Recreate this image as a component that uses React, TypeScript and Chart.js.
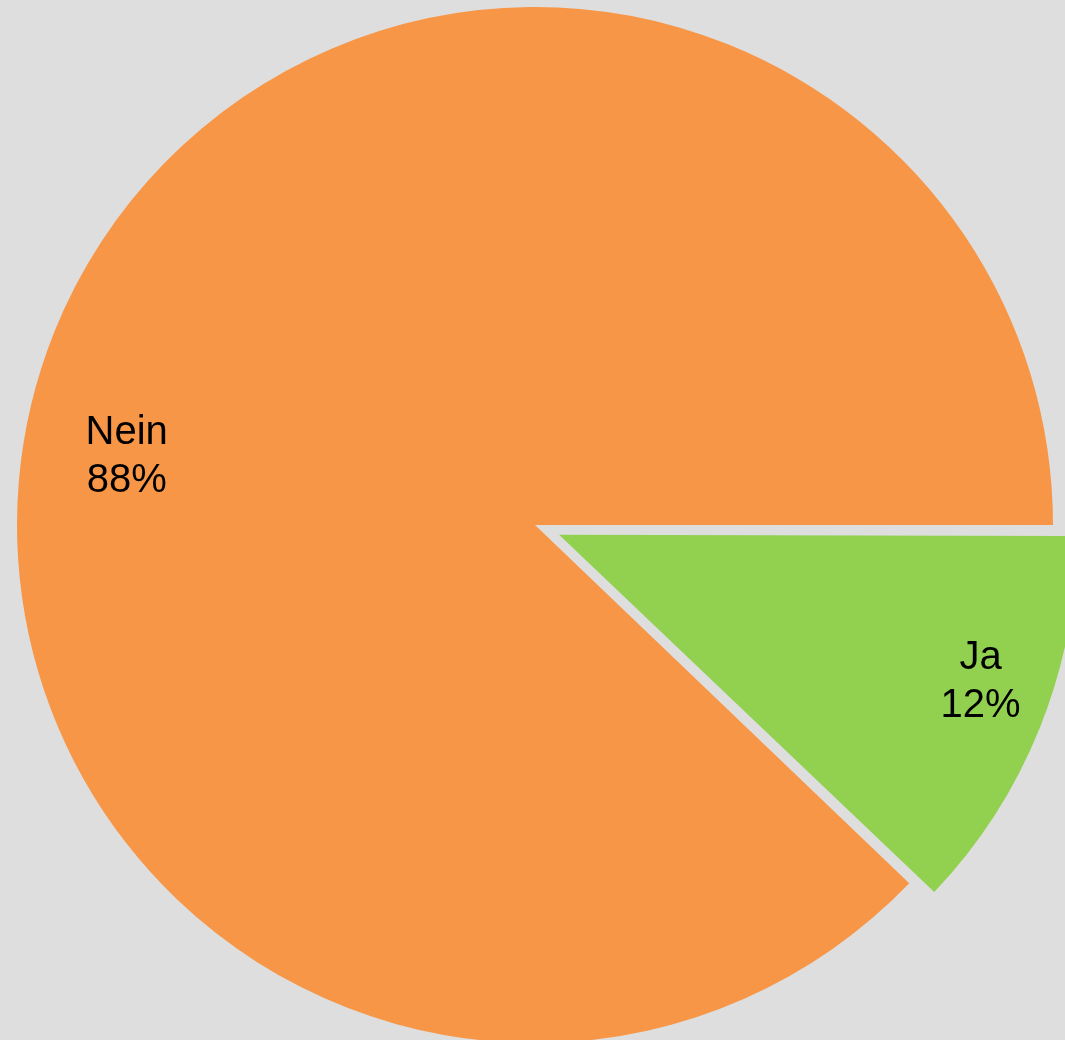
import React, { useEffect, useRef } from "react";
import { Chart, registerables } from "chart.js";

Chart.register(...registerables);

const categories = ["Ja", "Nein"];
const values = [12.15, 87.85];
const percentLabels = ["12%", "88%"];
const sliceColors = ["#92D050", "#F79646"];
// explode distance in pixels (Chart.js translates arcs by offset/4)
const sliceExplodePx = [26, 0];
// label placement within each slice: fraction of slice angle, fraction of radius
const labelAngleFrac = [0.432, 0.462];
const labelRadiusFrac = [0.86, 0.8];

function radiusFix(arc: any) {
  const circ = arc.endAngle - arc.startAngle;
  return 1 - Math.sin(Math.min(Math.PI, circ || 0));
}

const sliceLabelPlugin = {
  id: "sliceLabels",
  afterDatasetUpdate(chart: any, args: any) {
    const meta = chart.getDatasetMeta(args.index);
    meta.data.forEach((arc: any, i: number) => {
      const off = sliceExplodePx[i] || 0;
      if (off) arc.outerRadius = arc.outerRadius - off * radiusFix(arc);
    });
  },
  afterDatasetsDraw(chart: any) {
    const ctx = chart.ctx;
    const meta = chart.getDatasetMeta(0);
    ctx.save();
    ctx.fillStyle = "#000000";
    ctx.font = '40px "Liberation Sans", Arial, sans-serif';
    ctx.textAlign = "center";
    ctx.textBaseline = "middle";
    meta.data.forEach((arc: any, i: number) => {
      const { x, y, startAngle, endAngle, outerRadius } = arc;
      const mid = (startAngle + endAngle) / 2;
      const off = sliceExplodePx[i] || 0;
      const drawnR = outerRadius + off * radiusFix(arc);
      const cx = x + Math.cos(mid) * off;
      const cy = y + Math.sin(mid) * off;
      const a = startAngle + (endAngle - startAngle) * labelAngleFrac[i];
      const r = drawnR * labelRadiusFrac[i];
      const lx = cx + Math.cos(a) * r;
      const ly = cy + Math.sin(a) * r + 3;
      ctx.fillText(categories[i], lx, ly - 24);
      ctx.fillText(percentLabels[i], lx, ly + 24);
    });
    ctx.restore();
  },
};

export default function App() {
  const canvasRef = useRef<HTMLCanvasElement | null>(null);

  useEffect(() => {
    document.body.style.margin = "0";
    const canvas = canvasRef.current;
    if (!canvas) return;
    const chart = new Chart(canvas, {
      type: "pie",
      data: {
        labels: categories,
        datasets: [
          {
            data: values,
            backgroundColor: sliceColors,
            borderWidth: 0,
            offset: sliceExplodePx.map((p) => p * 4),
            clip: false as any,
          },
        ],
      },
      options: {
        responsive: false,
        animation: false,
        rotation: 90,
        radius: 518,
        layout: { padding: { left: 5, top: 10, right: 0, bottom: 0 } },
        plugins: {
          legend: { display: false },
          tooltip: { enabled: false },
        },
      },
      plugins: [sliceLabelPlugin],
    });
    return () => chart.destroy();
  }, []);

  return (
    <div
      style={{
        position: "fixed",
        left: 0,
        top: 0,
        width: 1065,
        height: 1040,
        background: "#DEDEDE",
        overflow: "hidden",
      }}
    >
      <canvas ref={canvasRef} width={1065} height={1040} />
    </div>
  );
}
